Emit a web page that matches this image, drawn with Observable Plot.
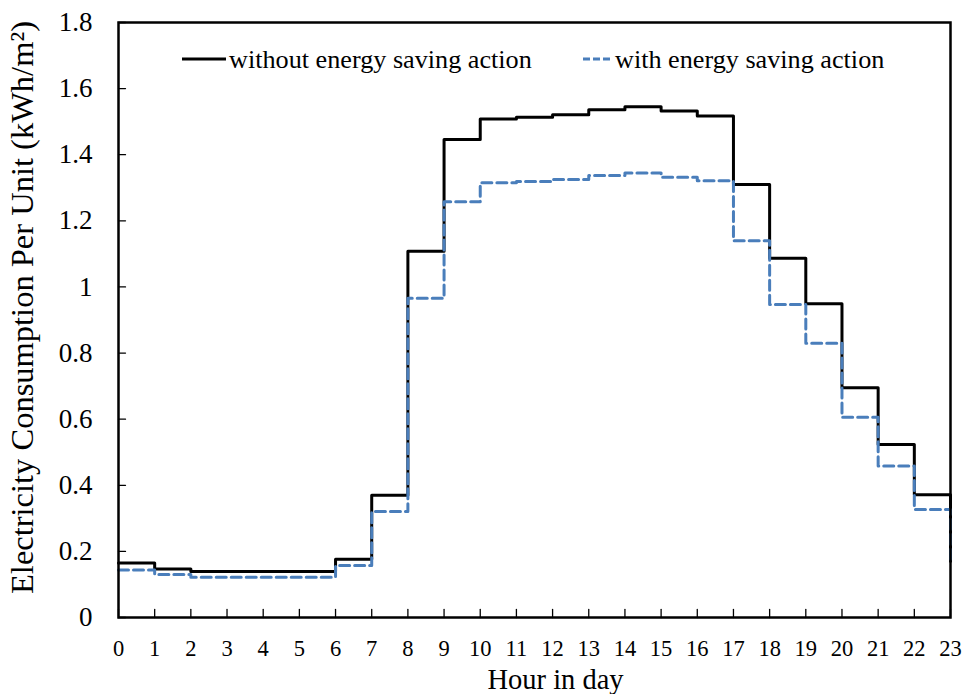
<!DOCTYPE html>
<html>
<head>
<meta charset="utf-8">
<script src="https://cdn.jsdelivr.net/npm/d3@7"></script>
<script src="https://cdn.jsdelivr.net/npm/@observablehq/plot@0.6"></script>
<style>
  html, body { margin: 0; padding: 0; background: #fff; }
  #wrap { position: relative; width: 967px; height: 694px; font-family: "Liberation Serif", "Times New Roman", serif; color: #000; }
  .lg { position: absolute; font-size: 26.2px; line-height: 25px; white-space: nowrap; font-family: "Liberation Serif", "Times New Roman", serif; }
  .sw { position: absolute; }
</style>
</head>
<body>
<div id="wrap">
  <div id="chart"></div>
  <svg class="sw" style="left:182px; top:54px;" width="44" height="10"><line x1="0" x2="44" y1="5" y2="5" stroke="#000" stroke-width="3"/></svg>
  <div class="lg" id="lg0" style="left:229px; top:47px;"></div>
  <svg class="sw" style="left:583px; top:54px;" width="28" height="10"><line x1="0" x2="28" y1="5" y2="5" stroke="#4A7EBB" stroke-width="3" stroke-dasharray="7,3"/></svg>
  <div class="lg" id="lg1" style="left:615px; top:47px;"></div>
</div>
<script>
// ---- data ----
const hours = [0,1,2,3,4,5,6,7,8,9,10,11,12,13,14,15,16,17,18,19,20,21,22,23];
const withoutAction = [0.165,0.147,0.139,0.139,0.139,0.139,0.176,0.370,1.108,1.446,1.508,1.513,1.521,1.536,1.545,1.532,1.517,1.310,1.087,0.949,0.695,0.523,0.371,0.170];
const withAction    = [0.144,0.130,0.122,0.122,0.122,0.122,0.157,0.321,0.966,1.258,1.315,1.319,1.325,1.337,1.345,1.332,1.321,1.140,0.947,0.830,0.606,0.458,0.327,0.165];
const seriesNames = ["without energy saving action", "with energy saving action"];
const yTicks = [0, 0.2, 0.4, 0.6, 0.8, 1, 1.2, 1.4, 1.6, 1.8];
const xLabel = "Hour in day";
const yLabel = "Electricity Consumption Per Unit (kWh/m\u00B2)";

document.getElementById("lg0").textContent = seriesNames[0];
document.getElementById("lg1").textContent = seriesNames[1];

const rowsWithout = hours.map((h, i) => ({hour: h, value: withoutAction[i]}));
const rowsWith = hours.map((h, i) => ({hour: h, value: withAction[i]}));

const tickShape = { draw(context, l) { context.moveTo(0, 0); context.lineTo(0, -l); } };
const font = "\"Liberation Serif\", \"Times New Roman\", serif";

const chart = Plot.plot({
  width: 967,
  height: 694,
  marginLeft: 118,
  marginRight: 17,
  marginTop: 22,
  marginBottom: 77,
  style: { fontFamily: font, background: "#fff", color: "#000", overflow: "visible" },
  x: { domain: [0, 23] },
  y: { domain: [0, 1.8] },
  marks: [
    Plot.axisY({ ticks: yTicks, tickSize: 0, tickPadding: 26, tickFormat: d => String(d), fontSize: 27, fontFamily: font, label: null }),
    Plot.axisX({ ticks: hours, tickSize: 0, tickPadding: 23, tickFormat: d => String(d), fontSize: 22.5, fontFamily: font, label: null }),
    Plot.vector(yTicks, { y: d => d, frameAnchor: "left", rotate: 90, length: 7, anchor: "start", shape: tickShape, stroke: "#000", strokeWidth: 1.3 }),
    Plot.vector(hours, { x: d => d, frameAnchor: "bottom", rotate: 0, length: 8, anchor: "start", shape: tickShape, stroke: "#000", strokeWidth: 1.3 }),
    Plot.line(rowsWithout, { x: "hour", y: "value", curve: "step-after", stroke: "#000", strokeWidth: 3 }),
    Plot.line(rowsWith, { x: "hour", y: "value", curve: "step-after", stroke: "#4A7EBB", strokeWidth: 3, strokeDasharray: "10,5" }),
    Plot.frame({ stroke: "#000", strokeWidth: 2.5 }),
    Plot.text([xLabel], { text: d => d, frameAnchor: "bottom", textAnchor: "middle", dx: 21, dy: 62, fontSize: 28.5, fontFamily: font, lineAnchor: "middle", fill: "#000" }),
    Plot.text([yLabel], { text: d => d, frameAnchor: "left", textAnchor: "middle", rotate: -90, dx: -96, dy: -12.5, fontSize: 32.5, fontFamily: font, lineAnchor: "middle", fill: "#000" })
  ]
});
document.getElementById("chart").appendChild(chart);
</script>
</body>
</html>
